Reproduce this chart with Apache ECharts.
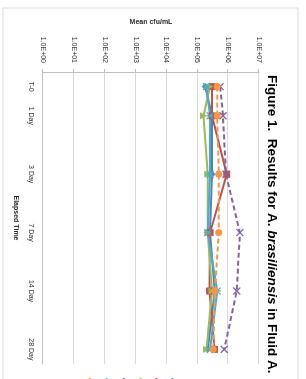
<!DOCTYPE html>
<html>
<head>
<meta charset="utf-8">
<script src="https://cdn.jsdelivr.net/npm/echarts@6/dist/echarts.min.js"></script>
<style>
  html, body { margin: 0; padding: 0; background: #fff; }
  #wrap { width: 306px; height: 379px; position: relative; overflow: hidden; }
  /* chart is drawn landscape, then turned a quarter clockwise like the scan */
  #chart {
    position: absolute; left: 0; top: 0;
    width: 379px; height: 306px;
    transform-origin: 0 0;
    transform: translate(306px, 0) rotate(90deg);
  }
</style>
</head>
<body>
<div id="wrap"><div id="chart"></div></div>
<script>
// elapsed time slots (blank slots keep the excel spacing)
const categories = ['T-0', '1 Day', '', '3 Day', '', '7 Day', '', '14 Day', '', '28 Day']
const valueTicks = ['1.0E+00', '1.0E+01', '1.0E+02', '1.0E+03', '1.0E+04', '1.0E+05', '1.0E+06', '1.0E+07']
const seriesNames = ['Lot 1', 'Lot 2', 'Lot 3', 'Lot 4', 'Lot 5', 'Lot 6']

// mean cfu/mL
const lot1 = [1.8e5, 3.0e5, null, 3.0e5, null, 2.6e5, null, 3.7e5, null, 2.2e5]
const lot2 = [3.0e5, 3.0e5, null, 9.0e5, null, 2.6e5, null, 2.5e5, null, 3.6e5]
const lot3 = [2.6e5, 1.6e5, null, 2.2e5, null, 2.2e5, null, 3.0e5, null, 2.0e5]
const lot4 = [5.5e5, 6.8e5, null, 8.5e5, null, 2.4e6, null, 1.9e6, null, 7.5e5]
const lot5 = [2.0e5, 2.6e5, null, 2.6e5, null, 2.2e5, null, 4.4e5, null, 2.6e5]
const lot6 = [4.4e5, 4.4e5, null, 5.0e5, null, 5.0e5, null, 3.7e5, null, 3.3e5]

const values = [lot1, lot2, lot3, lot4, lot5, lot6]
const colors = ['#4F81BD', '#C0504D', '#9BBB59', '#8064A2', '#4BACC6', '#F79646']
const symbols = [
  'diamond', 'rect', 'triangle',
  'path://M0,0L10,10M10,0L0,10',
  'path://M0,0L10,10M10,0L0,10M5,0L5,10',
  'circle'
]
const dashed = [false, false, false, true, false, true]

const chart = echarts.init(document.getElementById('chart'))

const series = values.map((data, i) => {
  const stroke = symbols[i].indexOf('path://') === 0
  return {
    name: seriesNames[i],
    type: 'line',
    data: data,
    connectNulls: true,
    symbol: symbols[i],
    symbolSize: 7,
    lineStyle: { color: colors[i], width: 2, type: dashed[i] ? [5, 3] : 'solid' },
    itemStyle: stroke
      ? { color: 'rgba(0,0,0,0)', borderColor: colors[i], borderWidth: 1.3 }
      : { color: colors[i], borderWidth: 0 },
    emphasis: { disabled: true }
  }
})

chart.setOption({
  animation: false,
  color: colors,
  textStyle: { fontFamily: 'Liberation Sans' },
  title: {
    left: 70,
    top: 22,
    text: '{a|Figure 1.  Results for A. }{b|brasiliensis}{a| in Fluid A.}',
    textStyle: {
      rich: {
        a: { fontSize: 13.5, fontWeight: 'bold', color: '#000', fontFamily: 'Liberation Sans' },
        b: { fontSize: 13.5, fontWeight: 'bold', fontStyle: 'italic', color: '#000', fontFamily: 'Liberation Sans' }
      }
    }
  },
  graphic: [{
    type: 'rect',
    shape: { x: 8, y: 8, width: 420, height: 295 },
    style: { fill: 'none', stroke: '#d9d9d9', lineWidth: 1 },
    silent: true
  }],
  legend: {
    orient: 'vertical',
    left: 372,
    top: 125,
    itemWidth: 25,
    itemHeight: 8,
    itemGap: 9,
    textStyle: { fontSize: 7, color: '#595959' },
    data: seriesNames
  },
  grid: { left: 72, right: 15, top: 47, bottom: 43 },
  xAxis: {
    type: 'category',
    data: categories,
    name: 'Elapsed Time',
    nameLocation: 'middle',
    nameGap: 24,
    nameTextStyle: { fontSize: 7, fontWeight: 'bold', color: '#262626' },
    axisLine: { lineStyle: { color: '#bfbfbf' } },
    axisTick: { show: false },
    axisLabel: { interval: 0, fontSize: 7, color: '#262626', margin: 9 }
  },
  yAxis: {
    type: 'log',
    logBase: 10,
    min: 1,
    max: 1e7,
    name: 'Mean cfu/mL',
    nameLocation: 'middle',
    nameGap: 44,
    nameTextStyle: { fontSize: 7, fontWeight: 'bold', color: '#262626' },
    axisLine: { show: true, lineStyle: { color: '#bfbfbf' } },
    axisTick: { show: true, length: 3, lineStyle: { color: '#bfbfbf' } },
    splitLine: { lineStyle: { color: '#d9d9d9' } },
    axisLabel: {
      fontSize: 7,
      color: '#262626',
      margin: 9,
      formatter: v => valueTicks[Math.round(Math.log10(v))]
    }
  },
  series: series
})
</script>
</body>
</html>
